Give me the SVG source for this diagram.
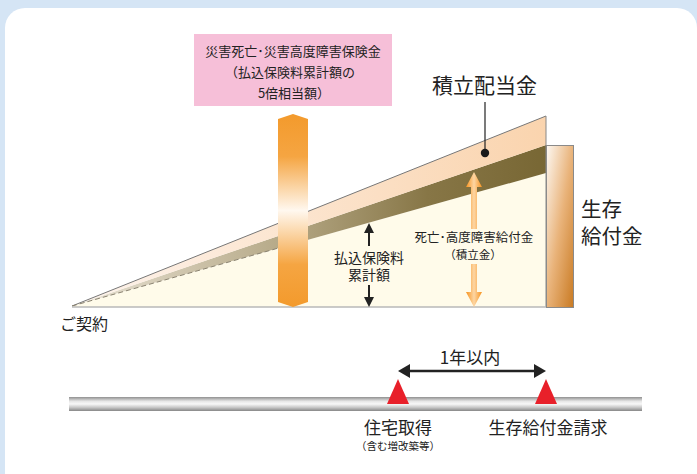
<svg xmlns="http://www.w3.org/2000/svg" width="697" height="474" viewBox="0 0 697 474">
<style>
text{font-family:"Noto Sans CJK JP","Noto Sans",sans-serif;fill:#222;}
.c{text-anchor:middle;}
</style>
<defs>
<linearGradient id="peach" x1="72" y1="0" x2="546" y2="0" gradientUnits="userSpaceOnUse">
<stop offset="0" stop-color="#fdf3ec"/><stop offset="1" stop-color="#fad4ae"/>
</linearGradient>
<linearGradient id="olive" x1="72" y1="0" x2="546" y2="0" gradientUnits="userSpaceOnUse">
<stop offset="0" stop-color="#ebe5d8"/><stop offset="0.45" stop-color="#b5a886"/><stop offset="0.75" stop-color="#877646"/><stop offset="1" stop-color="#786734"/>
</linearGradient>
<linearGradient id="pillar" x1="0" y1="114" x2="0" y2="307" gradientUnits="userSpaceOnUse">
<stop offset="0" stop-color="#f39a2c"/><stop offset="0.22" stop-color="#f5a542"/><stop offset="0.5" stop-color="#fff8ef"/><stop offset="0.78" stop-color="#f5a542"/><stop offset="1" stop-color="#f39a2c"/>
</linearGradient>
<linearGradient id="oarrow" x1="0" y1="0" x2="1" y2="0">
<stop offset="0" stop-color="#f7931e"/><stop offset="0.5" stop-color="#fdd6a4"/><stop offset="1" stop-color="#f7931e"/>
</linearGradient>
<linearGradient id="survival" x1="0" y1="0" x2="1" y2="1">
<stop offset="0" stop-color="#fdf8f2"/><stop offset="0.5" stop-color="#e9b37a"/><stop offset="1" stop-color="#c97a22"/>
</linearGradient>
<linearGradient id="bar" x1="0" y1="0" x2="0" y2="1">
<stop offset="0" stop-color="#909090"/><stop offset="0.3" stop-color="#e6e6e6"/><stop offset="0.5" stop-color="#f8f8f8"/><stop offset="0.75" stop-color="#c6c6c6"/><stop offset="1" stop-color="#878787"/>
</linearGradient>
</defs>
<rect x="0" y="0" width="697" height="474" fill="#d5e5f5"/>
<rect x="5" y="8" width="692" height="490" rx="20" fill="#ffffff"/>

<g id="wedge">
<polygon points="72,306 546,173 546,307 72,307" fill="#fffbea"/>
<polygon points="72,306 546,145 546,173" fill="url(#olive)"/>
<polygon points="72,306 546,116 546,145" fill="url(#peach)"/>
<line x1="72" y1="306" x2="546" y2="116" stroke="#777" stroke-width="1"/>
<line x1="72" y1="306" x2="300" y2="242" stroke="#8a8270" stroke-width="1" stroke-dasharray="5,3"/>
<line x1="546" y1="116" x2="546" y2="307" stroke="#888" stroke-width="1"/>
<line x1="72" y1="307" x2="546" y2="307" stroke="#b8b8b8" stroke-width="1.5"/>
</g>

<g id="survival-box">
<rect x="546.5" y="145.5" width="27" height="162" fill="url(#survival)" stroke="#8a8a8a" stroke-width="1"/>
<text x="581" y="217" font-size="20.5">生存</text>
<text x="581" y="244" font-size="20.5">給付金</text>
</g>

<g id="insurance-box">
<rect x="194" y="34" width="198" height="72" fill="#f6bfd8"/>
<text class="c" x="293" y="56" font-size="13">災害死亡･災害高度障害保険金</text>
<text class="c" x="290" y="77" font-size="13">（払込保険料累計額の</text>
<text class="c" x="294" y="98" font-size="13">5倍相当額）</text>
</g>

<g id="pillar">
<polygon points="278,119 293,114 308,119 308,302 293,307 278,302" fill="url(#pillar)"/>
</g>

<g id="dividend">
<text class="c" x="484.5" y="93" font-size="21">積立配当金</text>
</g>

<g id="death-benefit">
<text class="c" x="474" y="242" font-size="12.5">死亡･高度障害給付金</text>
<text class="c" x="473" y="259" font-size="11.5">（積立金）</text>
</g>

<g id="paid-premium">
<text class="c" x="369" y="263" font-size="14">払込保険料</text>
<text class="c" x="369" y="280" font-size="14">累計額</text>
</g>

<g id="contract">
<text x="60" y="330" font-size="16">ご契約</text>
</g>

<g id="timeline">
<rect x="69" y="397" width="573" height="14" fill="url(#bar)"/>
<polygon points="387,404 398,379 409,404" fill="#e8202a"/>
<polygon points="535,404 546,379 557,404" fill="#e8202a"/>
<text class="c" x="470" y="364" font-size="17">1年以内</text>
<text class="c" x="398" y="434" font-size="17">住宅取得</text>
<text class="c" x="398" y="450" font-size="10.5">（含む増改築等）</text>
<text class="c" x="548" y="434" font-size="17">生存給付金請求</text>
</g>

<g id="connectors">
<line x1="485" y1="102" x2="485" y2="153" stroke="#222" stroke-width="1.2"/>
<circle cx="485" cy="153" r="4.2" fill="#1a1a1a"/>
<polygon points="474,172 466,187 471,187 471,229 477,229 477,187 482,187" fill="url(#oarrow)"/>
<polygon points="471,264 477,264 477,292 482,292 474,307 466,292 471,292" fill="url(#oarrow)"/>
<polygon points="369,223 364,233 368,233 368,246 370,246 370,233 374,233" fill="#222"/>
<polygon points="368,285 370,285 370,297 374,297 369,307 364,297 368,297" fill="#222"/>
<line x1="408" y1="371" x2="536" y2="371" stroke="#222" stroke-width="2.5"/>
<polygon points="398,371 410,364 410,378" fill="#222"/>
<polygon points="546,371 534,364 534,378" fill="#222"/>
</g>
</svg>
